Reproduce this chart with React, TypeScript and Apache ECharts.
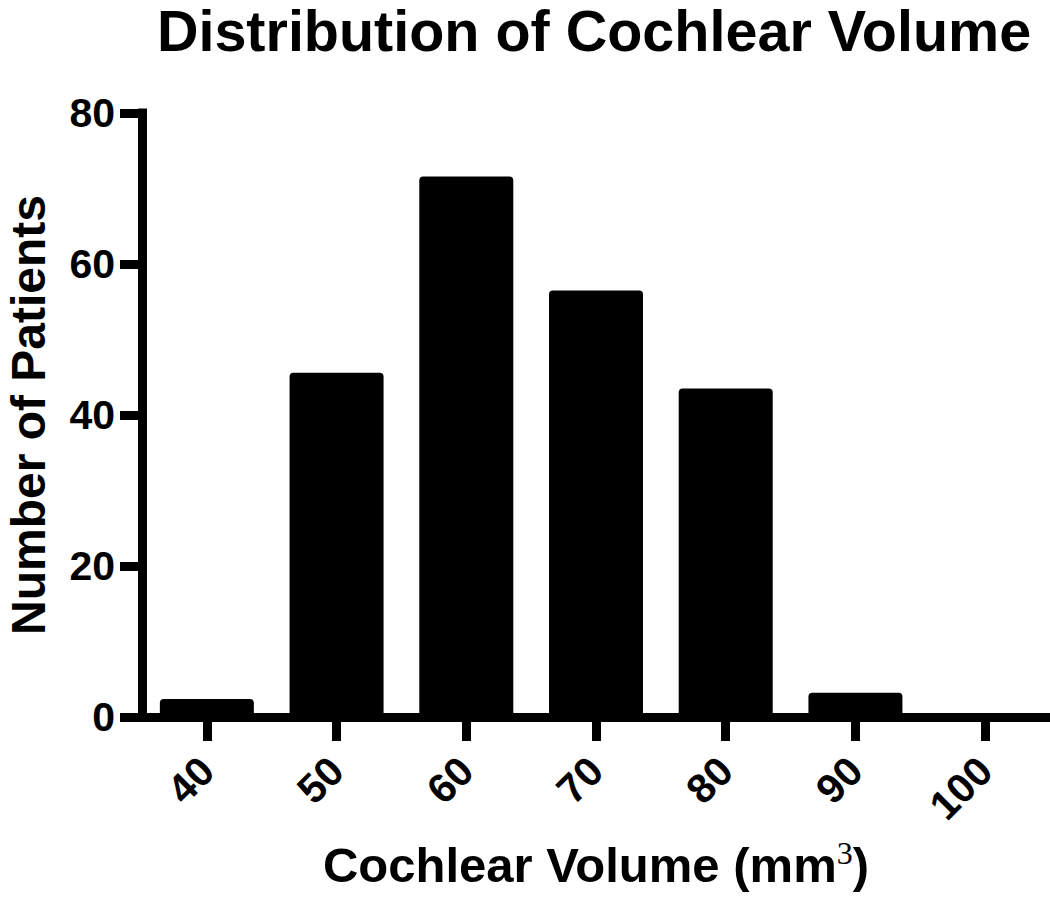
import React, { useEffect, useRef } from "react";
import * as echarts from "echarts";

const categories = ["40", "50", "60", "70", "80", "90", "100"];
const patientCounts = [2.4, 45.6, 71.6, 56.5, 43.5, 3.2, 0];
const yTicks = { min: 0, max: 80, interval: 20 };

const titleText = "Distribution of Cochlear Volume";
const yAxisName = "Number of Patients";

const FONT = "'Liberation Sans', Arial, Helvetica, sans-serif";

export default function App() {
  const ref = useRef<HTMLDivElement>(null);

  useEffect(() => {
    if (!ref.current) return;
    const chart = echarts.init(ref.current, null, { renderer: "svg" });
    chart.setOption({
      animation: false,
      backgroundColor: "#ffffff",
      title: {
        text: titleText,
        left: 594,
        top: 4,
        padding: 0,
        textAlign: "center",
        textStyle: {
          fontFamily: FONT,
          fontWeight: "bold",
          fontSize: 57.5,
          lineHeight: 54,
          color: "#000",
        },
      },
      grid: { left: 142, right: 0, top: 113, bottom: 196, containLabel: false, outerBoundsMode: "none" },
      xAxis: {
        type: "category",
        data: categories,
        boundaryGap: true,
        name: "{a|Cochlear Volume (mm}{s|3}{a|)}",
        nameLocation: "middle",
        nameGap: 120,
        nameTextStyle: {
          rich: {
            a: { fontFamily: FONT, fontWeight: "bold", fontSize: 49, color: "#000", lineHeight: 56 },
            s: { fontFamily: "'Liberation Serif', 'Times New Roman', serif", fontSize: 32, color: "#000", verticalAlign: "top", lineHeight: 56 },
          },
        },
        axisLine: { show: true, lineStyle: { color: "#000", width: 9, cap: "square" } },
        axisTick: { show: true, alignWithLabel: true, length: 24, lineStyle: { color: "#000", width: 9 } },
        axisLabel: {
          rotate: 45,
          margin: 47,
          fontFamily: FONT,
          fontWeight: "bold",
          fontSize: 41,
          color: "#000",
          interval: 0,
        },
        splitLine: { show: false },
      },
      yAxis: {
        type: "value",
        min: yTicks.min,
        max: yTicks.max,
        interval: yTicks.interval,
        name: yAxisName,
        nameLocation: "middle",
        nameRotate: 90,
        nameGap: 93,
        nameTextStyle: { fontFamily: FONT, fontWeight: "bold", fontSize: 48, lineHeight: 42, color: "#000" },
        axisLine: { show: true, lineStyle: { color: "#000", width: 9, cap: "square" } },
        axisTick: { show: true, length: 22, lineStyle: { color: "#000", width: 9 } },
        axisLabel: { margin: 27, fontFamily: FONT, fontWeight: "bold", fontSize: 41, color: "#000" },
        splitLine: { show: false },
      },
      series: [
        {
          type: "bar",
          data: patientCounts,
          barWidth: 94,
          itemStyle: { color: "#000", borderRadius: [4, 4, 0, 0] },
        },
      ],
    });
    return () => chart.dispose();
  }, []);

  return (
    <div
      ref={ref}
      style={{ position: "fixed", left: 0, top: 0, width: 1050, height: 913, background: "#fff" }}
    />
  );
}
